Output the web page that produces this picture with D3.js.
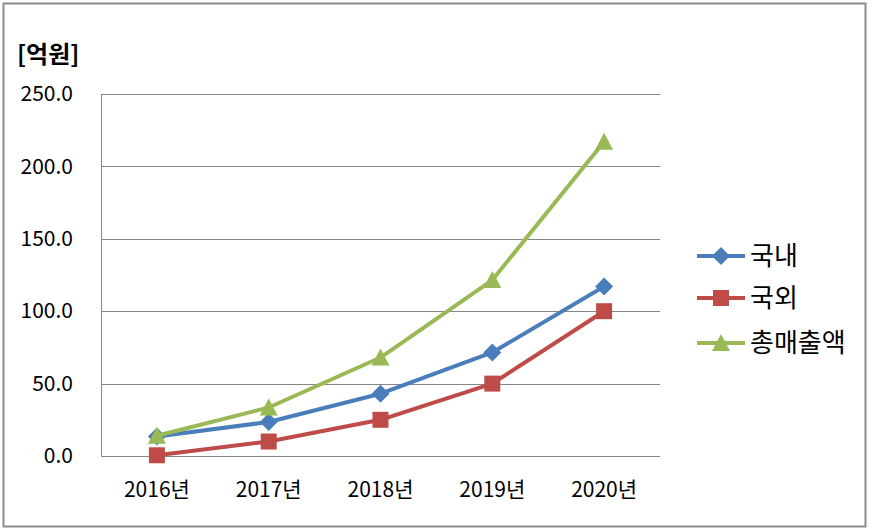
<!DOCTYPE html>
<html><head><meta charset="utf-8">
<script src="https://cdn.jsdelivr.net/npm/d3@7"></script>
<style>body{margin:0;background:#fff;} svg{display:block;font-family:"Noto Sans CJK KR","Noto Sans",sans-serif;}</style>
</head><body><svg id="c" width="872" height="531"></svg>
<script>
const years = ["2016년","2017년","2018년","2019년","2020년"];
const domestic = [13.5, 23.5, 43, 71.5, 117];
const foreign = [0.5, 10, 25, 50, 100];
const total = [14, 33.5, 68, 121.5, 217];
const yTicks = [0, 50, 100, 150, 200, 250];
const seriesNames = ["국내","국외","총매출액"];
const unitLabel = "[억원]";

const series = [
  {name: seriesNames[0], values: domestic, color: "#4a7ebb", shape: "diamond"},
  {name: seriesNames[1], values: foreign, color: "#be4b48", shape: "square"},
  {name: seriesNames[2], values: total, color: "#98b954", shape: "triangle"}
];

const svg = d3.select("#c");
svg.append("rect").attr("x",3.5).attr("y",3.5).attr("width",862).attr("height",523)
  .attr("fill","#fff").attr("stroke","#8c8c8c").attr("stroke-width",2);

const L=101, R=660, T=94, B=456;
const x = d3.scaleBand().domain(years).range([L,R]);
const y = d3.scaleLinear().domain([0,250]).range([B,T]);

svg.append("g").selectAll("line").data(yTicks).join("line")
  .attr("x1",L).attr("x2",R).attr("y1",d=>Math.round(y(d))+0.5).attr("y2",d=>Math.round(y(d))+0.5)
  .attr("stroke","#868686").attr("stroke-width",1);
svg.append("line").attr("x1",L+0.5).attr("x2",L+0.5).attr("y1",T).attr("y2",B+1).attr("stroke","#868686");

const yAxis = d3.axisLeft(y).tickValues(yTicks).tickFormat(d3.format(".1f")).tickSize(0).tickPadding(28);
const ga = svg.append("g").attr("transform",`translate(${L},0)`).call(yAxis);
ga.select(".domain").remove();
ga.selectAll("text").attr("font-size",21).attr("fill","#000").style("font-family","'Noto Sans CJK KR'");

const xAxis = d3.axisBottom(x).tickSize(0).tickPadding(26);
const gx = svg.append("g").attr("transform",`translate(0,${B})`).call(xAxis);
gx.select(".domain").remove();
gx.selectAll("text").attr("font-size",21).attr("fill","#000").style("font-family","'Noto Sans CJK KR'");

svg.append("text").attr("x",17).attr("y",63).text(unitLabel)
  .attr("font-size",24).attr("font-weight","bold").attr("fill","#000");

const line = d3.line().x((d,i)=>x(years[i])+x.bandwidth()/2).y(d=>y(d));
const sym = {
  diamond: "M0,-9L9,0L0,9L-9,0Z",
  square: "M-8,-8H8V8H-8Z",
  triangle: "M0,-9L9,8H-9Z"
};

series.forEach(s=>{
  svg.append("path").datum(s.values).attr("d",line).attr("fill","none")
    .attr("stroke",s.color).attr("stroke-width",4).attr("stroke-linejoin","round");
  svg.append("g").selectAll("path").data(s.values).join("path")
    .attr("d",sym[s.shape])
    .attr("transform",(d,i)=>`translate(${x(years[i])+x.bandwidth()/2},${y(d)})`)
    .attr("fill",s.color);
});

const legY = [256, 298, 343];
series.forEach((s,i)=>{
  const g = svg.append("g").attr("transform",`translate(0,${legY[i]})`);
  g.append("line").attr("x1",697).attr("x2",745).attr("y1",0).attr("y2",0).attr("stroke",s.color).attr("stroke-width",4);
  g.append("path").attr("d",sym[s.shape]).attr("transform","translate(721,0)").attr("fill",s.color);
  g.append("text").attr("x",750).attr("y",0).attr("dy","0.36em").attr("font-size",26).attr("fill","#000").text(s.name);
});
</script></body></html>
